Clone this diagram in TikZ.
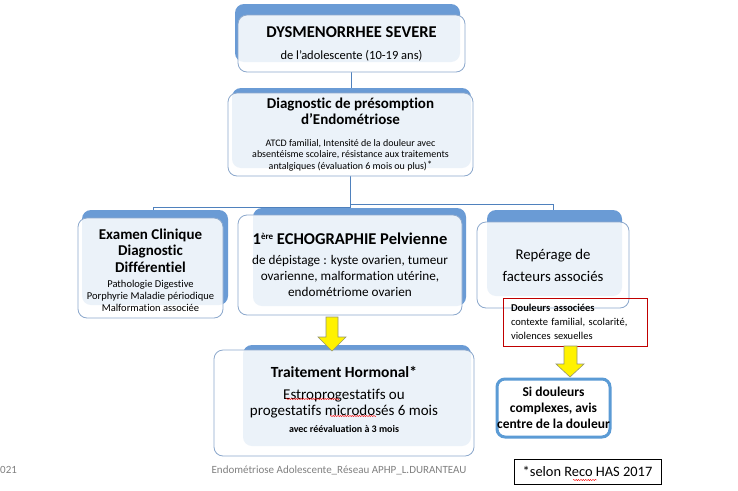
\documentclass[tikz,border=0pt]{standalone}
\usepackage{fontspec}
\setmainfont{Carlito}[Ligatures=NoCommon]
\usetikzlibrary{calc,decorations.pathmorphing}
\definecolor{barblue}{RGB}{106,155,213}
\definecolor{edgeblue}{RGB}{140,168,204}
\definecolor{linkblue}{RGB}{79,129,189}
\definecolor{thickblue}{RGB}{91,155,213}
\definecolor{footgray}{RGB}{128,128,128}
\definecolor{redbox}{RGB}{192,0,0}
\definecolor{arrowedge}{RGB}{150,150,110}
\tikzset{
 bar/.style={fill=barblue, rounded corners=9pt},
 card/.style={draw=edgeblue, line width=0.8pt, fill=white, fill opacity=0.87, text opacity=1,
   rounded corners=9pt, align=center, inner sep=0pt},
 words/.style={align=center, inner sep=0pt},
 link/.style={draw=linkblue, line width=0.8pt},
 yel/.style={fill=yellow, draw=arrowedge, line width=0.6pt, line join=miter},
 squig/.style={draw=red, line width=0.4pt, decorate, decoration={snake, amplitude=0.6pt, segment length=2.4pt}},
}
\newcommand\fs[2]{\fontsize{#1}{#2}\selectfont}
\begin{document}
\lineskiplimit=-50pt\lineskip=0pt
\begin{tikzpicture}[x=1pt,y=-1pt]
\useasboundingbox (0,0) rectangle (738,490);
\fill[white] (0,0) rectangle (738,490);

% junction points of the elbow connectors
\coordinate (jl) at (348,207);
\coordinate (jr) at (348,204);
\coordinate (el) at (153,212);

% placeholders so the connectors can be drawn under the bars
\path node[minimum width=227, minimum height=57] (top) at (351.5,43.5) {}
      node[minimum width=245, minimum height=83] (diag) at (350.5,134.5) {}
      node[minimum width=152, minimum height=86] (rep) at (553,265) {};

% connectors
\draw[link] (top.south) -- (top.south |- diag.north);
\draw[link] (diag.south) -- (diag.south |- jl) -| (el);
\draw[link] (diag.south |- jr) -| (rep.north |- el);

% back bars
\fill[bar] (235,4) rectangle (460,62);
\fill[bar] (232,88) rectangle (471,168);
\fill[bar] (82,210) rectangle (228,305);
\fill[bar] (253,208) rectangle (466,306);
\fill[bar] (487,210) rectangle (622,296);
\fill[bar] (243,345) rectangle (471,446);

% cards
\node[card, minimum width=227, minimum height=57, font=\fs{16.5}{22}] (topc) at (top)
 {\bfseries DYSMENORRHEE SEVERE\\\fs{12.5}{22}\mdseries de l’adolescente (10-19 ans)};
\node[card, minimum width=245, minimum height=83, font=\fs{10}{11.6}] (diagc) at (diag)
 {\fs{15}{11.6}\bfseries Diagnostic de présomption\\[4.4pt]\fs{15}{11.6}\bfseries d’Endométriose\\[10.4pt]
  ATCD familial, Intensité de la douleur avec\\
  absentéisme scolaire, résistance aux traitements\\
  antalgiques (évaluation 6 mois ou plus)\raisebox{0.8pt}{\fs{10.5}{11}*}};
\node[card, minimum width=145, minimum height=100, font=\fs{10.5}{12}] (exam) at (150.5,268) {};
\node[words, font=\fs{10.5}{12}] (examtext) at ($(exam)+(0,2)$)
 {\fs{15}{12}\bfseries Examen Clinique\\[4.5pt]\fs{15}{12}\bfseries Diagnostic\\[4.5pt]\fs{15}{12}\bfseries Différentiel\\[3pt]
  Pathologie Digestive\\Porphyrie Maladie périodique\\Malformation associée};
\node[card, minimum width=224, minimum height=100, font=\fs{13.2}{16}] (echo) at (350,265)
 {\fs{16.5}{16}\bfseries 1\raisebox{5pt}{\fs{9}{9}ère} ECHOGRAPHIE Pelvienne\\[4pt]
  de dépistage : kyste ovarien, tumeur\\
  ovarienne, malformation utérine,\\
  endométriome ovarien};
\node[card, minimum width=152, minimum height=86, font=\fs{14.8}{22}] (repc) at (rep)
 {Repérage de\\facteurs associés};
\node[card, minimum width=260, minimum height=106] (trait) at (344,403) {};
\node[words, font=\fs{15}{16}] (traittext) at ($(trait)+(0,-4)$)
 {\fs{15.5}{16}\bfseries Traitement Hormonal*\\[6pt]
  Estroprogestatifs ou\\progestatifs microdosés 6 mois\\[1pt]
  \fs{10}{16}\bfseries avec réévaluation à 3 mois};
\node[draw=thickblue, line width=3pt, fill=white, rounded corners=8pt, align=center, inner sep=0pt,
  minimum width=113, minimum height=58, font=\fs{13.5}{16}\bfseries] (pain) at (553.5,408)
 {Si douleurs\\complexes, avis\\centre de la douleur};
\node[draw=redbox, line width=0.8pt, align=left, inner xsep=8pt, inner ysep=0pt, text width=128,
  minimum height=48, font=\fs{10.5}{14}] (assoc) at (575,322)
 {\textbf{Douleurs associées}\\contexte familial, scolarité,\\violences sexuelles};

% yellow block arrows
\draw[yel] (326,317) -- (338,317) -- (338,337) -- (346,337) -- (332,351) -- (318,337) -- (326,337) -- cycle;
\draw[yel] (564,346) -- (577,346) -- (577,364) -- (584,364) -- (570,377) -- (556,364) -- (564,364) -- cycle;

% spell-check squiggles
\draw[squig] (286,399) -- (340,399);
\draw[squig] (330,416) -- (376,416);
\draw[squig] (573,480) -- (597,480);

% footer
\node[text=footgray, anchor=west, inner sep=0pt, font=\fs{11}{13}] (date) at (0,470) {021};
\node[text=footgray, inner sep=0pt, font=\fs{11}{13}] (foot) at (339,470) {Endométriose Adolescente\_Réseau APHP\_L.DURANTEAU};
\node[draw=black, line width=0.8pt, inner sep=0pt, minimum width=147, minimum height=25, font=\fs{14.4}{16}] (has) at (587.5,471.5)
 {*selon Reco HAS 2017};
\end{tikzpicture}
\end{document}
